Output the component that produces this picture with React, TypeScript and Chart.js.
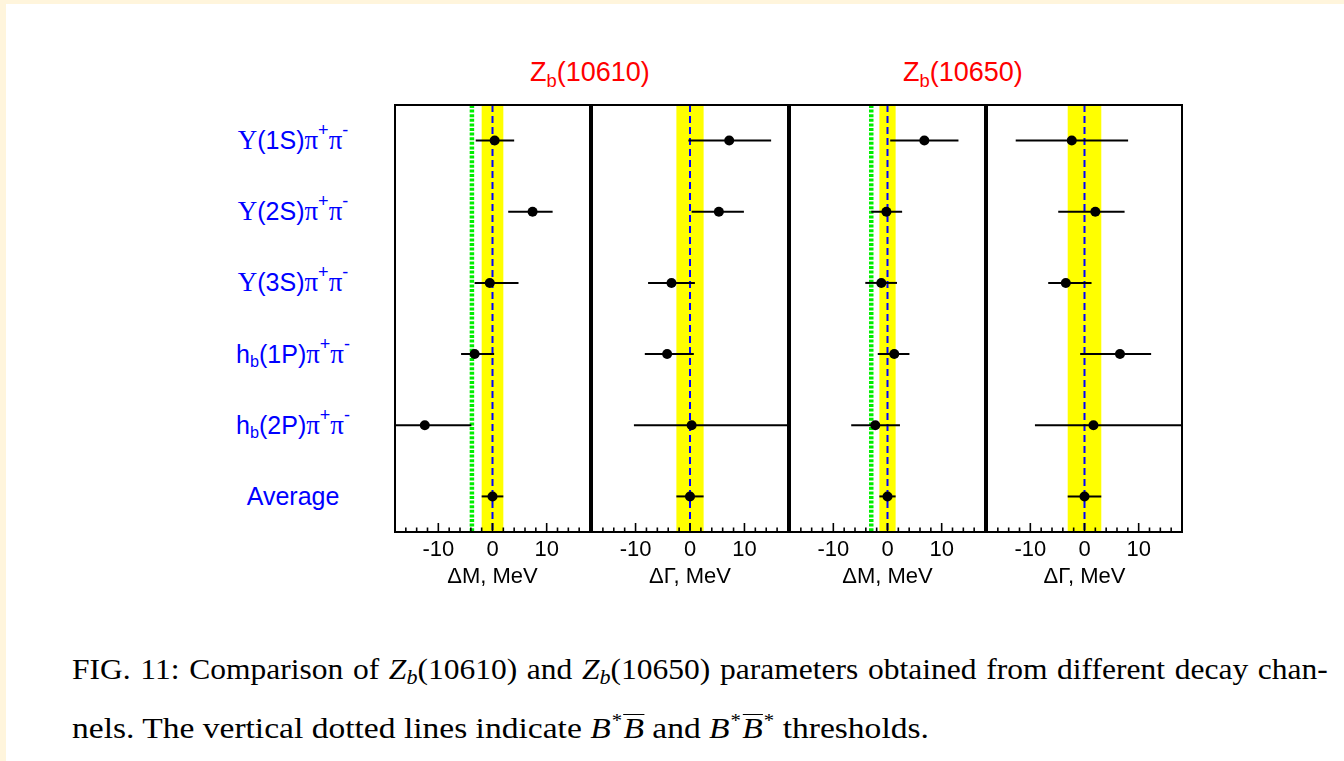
import React, { useEffect, useRef } from 'react';
import { Chart, registerables } from 'chart.js';

Chart.register(...registerables);

// ---------------- data ----------------
const rowLabels = ['Υ(1S)π+π-', 'Υ(2S)π+π-', 'Υ(3S)π+π-', 'h_b(1P)π+π-', 'h_b(2P)π+π-', 'Average'];
const rowPositions = [5.5, 4.5, 3.5, 2.5, 1.5, 0.5];
const xTickLabels = [-10, 0, 10];

// Zb(10610) ΔM
const zb1MassValue = [0.4, 7.4, -0.5, -3.3, -12.5, 0.0];
const zb1MassLow = [-3.1, 2.9, -3.3, -5.8, -21.1, -2.0];
const zb1MassHigh = [4.0, 11.1, 4.8, 0.3, -3.9, 2.0];
const zb1MassBand = 2.0;
const zb1Threshold = -3.8;

// Zb(10610) ΔΓ
const zb1WidthValue = [7.2, 5.3, -3.4, -4.2, 0.3, 0.0];
const zb1WidthLow = [-0.3, 0.3, -7.7, -8.3, -10.3, -2.5];
const zb1WidthHigh = [14.9, 9.9, 0.9, 0.7, 19.0, 2.5];
const zb1WidthBand = 2.5;

// Zb(10650) ΔM
const zb2MassValue = [6.8, -0.2, -1.15, 1.25, -2.25, 0.0];
const zb2MassLow = [0.5, -3.0, -4.1, -1.8, -6.7, -1.5];
const zb2MassHigh = [13.1, 2.7, 1.75, 4.05, 2.3, 1.5];
const zb2MassBand = 1.5;
const zb2Threshold = -3.0;

// Zb(10650) ΔΓ
const zb2WidthValue = [-2.35, 2.0, -3.45, 6.55, 1.65, 0.0];
const zb2WidthLow = [-12.7, -4.85, -6.7, -0.8, -9.15, -3.1];
const zb2WidthHigh = [8.05, 7.4, 1.3, 12.3, 19.0, 3.1];
const zb2WidthBand = 3.1;

const stateTitles = ['10610', '10650'];
const axisTitles = ['ΔM, MeV', 'ΔΓ, MeV', 'ΔM, MeV', 'ΔΓ, MeV'];

// ---------------- layout ----------------
const SANS = "'Liberation Sans', Arial, Helvetica, sans-serif";
const SERIF = "'Liberation Serif', 'Times New Roman', serif";
const PLOT_TOP = 104;
const PLOT_BOTTOM = 532;
const PAD = 4;
const AXIS_H = 60;

const panels = [
  { value: zb1MassValue, low: zb1MassLow, high: zb1MassHigh, band: zb1MassBand, threshold: zb1Threshold, title: axisTitles[0], left: 394, right: 591 },
  { value: zb1WidthValue, low: zb1WidthLow, high: zb1WidthHigh, band: zb1WidthBand, threshold: null, title: axisTitles[1], left: 591, right: 789 },
  { value: zb2MassValue, low: zb2MassLow, high: zb2MassHigh, band: zb2MassBand, threshold: zb2Threshold, title: axisTitles[2], left: 789, right: 986 },
  { value: zb2WidthValue, low: zb2WidthLow, high: zb2WidthHigh, band: zb2WidthBand, threshold: null, title: axisTitles[3], left: 986, right: 1183 },
];

function Panel({ cfg }: { cfg: any }) {
  const ref = useRef<HTMLCanvasElement>(null);
  const w = cfg.right - cfg.left + 2 * PAD;
  const h = PLOT_BOTTOM - PLOT_TOP + PAD + AXIS_H;

  useEffect(() => {
    const datasets: any[] = [];
    cfg.value.forEach((_: number, i: number) => {
      datasets.push({
        type: 'scatter',
        showLine: true,
        data: [
          { x: cfg.low[i], y: rowPositions[i] },
          { x: cfg.high[i], y: rowPositions[i] },
        ],
        borderColor: '#000000',
        borderWidth: 2,
        pointRadius: 0,
        clip: 0,
        order: 2,
      });
    });
    datasets.push({
      type: 'scatter',
      data: cfg.value.map((v: number, i: number) => ({ x: v, y: rowPositions[i] })),
      backgroundColor: '#000000',
      borderWidth: 0,
      pointRadius: 5,
      order: 1,
    });

    const refPlugin = {
      id: 'refLines',
      beforeDatasetsDraw(chart: any) {
        const { ctx, chartArea, scales } = chart;
        const x = scales.x;
        const { top, bottom } = chartArea;
        ctx.save();
        const l = x.getPixelForValue(-cfg.band);
        const r = x.getPixelForValue(cfg.band);
        ctx.fillStyle = '#ffff00';
        ctx.fillRect(l, top, r - l, bottom - top);
        if (cfg.threshold !== null) {
          const tx = x.getPixelForValue(cfg.threshold);
          ctx.strokeStyle = '#00ee00';
          ctx.lineWidth = 4.5;
          ctx.setLineDash([3, 1.6]);
          ctx.beginPath();
          ctx.moveTo(tx, top);
          ctx.lineTo(tx, bottom);
          ctx.stroke();
        }
        const cx = x.getPixelForValue(0);
        ctx.strokeStyle = '#0000ff';
        ctx.lineWidth = 2;
        ctx.setLineDash([7, 4]);
        ctx.beginPath();
        ctx.moveTo(cx, top);
        ctx.lineTo(cx, bottom);
        ctx.stroke();
        ctx.restore();
      },
    };

    const framePlugin = {
      id: 'frame',
      afterDraw(chart: any) {
        const { ctx, chartArea, scales } = chart;
        const x = scales.x;
        const { left, right, top, bottom } = chartArea;
        ctx.save();
        ctx.strokeStyle = '#000000';
        ctx.lineWidth = 1.6;
        x.ticks.forEach((t: any) => {
          if (t.value <= x.min || t.value >= x.max) return;
          const px = x.getPixelForValue(t.value);
          const len = t.value % 10 === 0 ? 9 : 4.5;
          ctx.beginPath();
          ctx.moveTo(px, bottom);
          ctx.lineTo(px, bottom - len);
          ctx.stroke();
        });
        ctx.lineWidth = 2;
        ctx.strokeRect(left, top, right - left, bottom - top);
        ctx.restore();
      },
    };

    const chart = new Chart(ref.current as HTMLCanvasElement, {
      type: 'scatter',
      data: { datasets },
      options: {
        responsive: false,
        maintainAspectRatio: false,
        animation: false,
        devicePixelRatio: 1,
        events: [],
        layout: { padding: { left: PAD, right: PAD, top: PAD, bottom: 0 } },
        plugins: { legend: { display: false }, tooltip: { enabled: false } },
        scales: {
          x: {
            type: 'linear',
            min: -18,
            max: 18,
            grid: { display: false, drawTicks: false, tickLength: 0 },
            border: { display: false },
            ticks: {
              stepSize: 2,
              autoSkip: false,
              maxRotation: 0,
              minRotation: 0,
              padding: 5,
              color: '#000000',
              font: { family: SANS, size: 22 },
              callback: (v: any) => (xTickLabels.includes(Number(v)) ? String(v) : ''),
            },
            title: {
              display: true,
              text: cfg.title,
              color: '#000000',
              font: { family: SANS, size: 22 },
              padding: { top: 0, bottom: 2 },
            },
            afterFit: (s: any) => {
              s.height = AXIS_H;
            },
          },
          y: { type: 'linear', min: 0, max: 6, display: false },
        },
      } as any,
      plugins: [refPlugin, framePlugin],
    });
    return () => chart.destroy();
  }, []);

  return (
    <canvas
      ref={ref}
      width={w}
      height={h}
      style={{ position: 'absolute', left: cfg.left - PAD, top: PLOT_TOP - PAD, width: w, height: h }}
    />
  );
}

const subStyle: React.CSSProperties = { fontSize: '0.65em', verticalAlign: '-0.3em', lineHeight: 0 };
const supStyle: React.CSSProperties = { fontSize: '0.72em', verticalAlign: '0.7em', lineHeight: 0 };

function richLabel(s: string) {
  const out: any[] = [];
  let k = 0;
  for (let i = 0; i < s.length; i++) {
    const c = s[i];
    if (c === '_') {
      out.push(<span key={k++} style={subStyle}>{s[i + 1]}</span>);
      i++;
    } else if ((c === '+' || c === '-') && s[i - 1] === 'π') {
      out.push(<span key={k++} style={supStyle}>{c}</span>);
    } else if (c === 'Υ' || c === 'π') {
      out.push(<span key={k++} style={{ fontFamily: SERIF, fontSize: '1.08em', lineHeight: 0 }}>{c}</span>);
    } else {
      out.push(<span key={k++}>{c}</span>);
    }
  }
  return out;
}

function rowPixel(v: number) {
  return PLOT_TOP + ((6 - v) / 6) * (PLOT_BOTTOM - PLOT_TOP);
}

const mathSub: React.CSSProperties = { fontSize: '0.7em', verticalAlign: '-0.25em', lineHeight: 0 };
const mathSup: React.CSSProperties = { fontSize: '0.62em', verticalAlign: '0.6em', lineHeight: 0, marginLeft: '0.05em' };
const Zb = () => (
  <span>
    <i>Z</i>
    <span style={mathSub}><i>b</i></span>
  </span>
);
const Bbar = () => (
  <span
    style={{
      display: 'inline-block',
      borderTop: '1.5px solid #000000',
      lineHeight: 0.8,
      marginLeft: '0.04em',
      paddingTop: 1,
    }}
  >
    <i>B</i>
  </span>
);

const LINE1_SCALE = 1.05;
const LINE2_SCALE = 1.118;

export default function App() {
  return (
    <div
      style={{
        position: 'absolute',
        left: 0,
        top: 0,
        width: 1344,
        height: 761,
        background: '#ffffff',
        overflow: 'hidden',
        fontFamily: SANS,
      }}
    >
      <div style={{ position: 'absolute', left: 0, top: 0, width: 1344, height: 4, background: '#fff5dc' }} />
      <div style={{ position: 'absolute', left: 0, top: 0, width: 6, height: 761, background: '#fff5dc' }} />

      {stateTitles.map((t, i) => (
        <div
          key={t}
          style={{
            position: 'absolute',
            left: i === 0 ? 530 : 903,
            top: 59,
            fontSize: 27,
            lineHeight: 1,
            color: '#ff0000',
            whiteSpace: 'nowrap',
          }}
        >
          Z<span style={{ fontSize: '0.68em', verticalAlign: '-0.3em', lineHeight: 0 }}>b</span>({t})
        </div>
      ))}

      {rowLabels.map((l, i) => (
        <div
          key={l}
          style={{
            position: 'absolute',
            left: 293,
            top: rowPixel(rowPositions[i]),
            transform: 'translate(-50%, -50%)',
            fontSize: 25,
            lineHeight: 1,
            color: '#0000ff',
            whiteSpace: 'nowrap',
          }}
        >
          {richLabel(l)}
        </div>
      ))}

      {panels.map((p, i) => (
        <Panel key={i} cfg={p} />
      ))}

      <div
        style={{
          position: 'absolute',
          left: 72,
          top: 654,
          width: Math.floor(1256 / LINE1_SCALE),
          transform: `scaleX(${LINE1_SCALE})`,
          transformOrigin: 'left top',
          fontFamily: SERIF,
          fontSize: 30,
          lineHeight: 1,
          color: '#000000',
          textAlign: 'justify',
          textAlignLast: 'justify' as any,
        }}
      >
        FIG. 11: Comparison of <Zb />(10610) and <Zb />(10650) parameters obtained from different decay chan-
      </div>
      <div
        style={{
          position: 'absolute',
          left: 72,
          top: 713,
          transform: `scaleX(${LINE2_SCALE})`,
          transformOrigin: 'left top',
          fontFamily: SERIF,
          fontSize: 30,
          lineHeight: 1,
          color: '#000000',
          whiteSpace: 'nowrap',
        }}
      >
        nels. The vertical dotted lines indicate <i>B</i>
        <span style={mathSup}>*</span>
        <Bbar /> and <i>B</i>
        <span style={mathSup}>*</span>
        <Bbar />
        <span style={mathSup}>*</span> thresholds.
      </div>
    </div>
  );
}
